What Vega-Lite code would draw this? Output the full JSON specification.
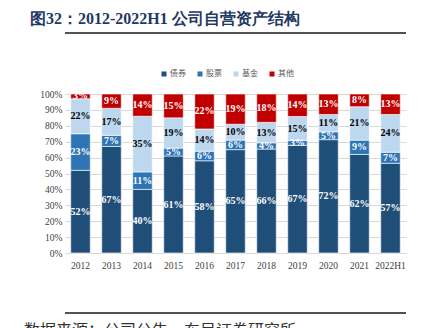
{
  "$schema": "https://vega.github.io/schema/vega-lite/v6.json",
  "width": 341,
  "height": 159,
  "autosize": {"type": "none"},
  "padding": {"left": 65, "top": 94, "right": 27, "bottom": 75},
  "background": "white",
  "title": {
    "text": "图32：2012-2022H1 公司自营资产结构",
    "anchor": "start",
    "frame": "group",
    "dx": -35,
    "offset": 5,
    "font": "Liberation Serif",
    "fontSize": 16,
    "fontWeight": "bold",
    "color": "#1F3864"
  },
  "config": {
    "view": {"stroke": null},
    "font": "Liberation Serif"
  },
  "data": {
    "values": [
      {"year": "2012", "type": "债券", "value": 52}, {"year": "2012", "type": "股票", "value": 23}, {"year": "2012", "type": "基金", "value": 22}, {"year": "2012", "type": "其他", "value": 3},
      {"year": "2013", "type": "债券", "value": 67}, {"year": "2013", "type": "股票", "value": 7}, {"year": "2013", "type": "基金", "value": 17}, {"year": "2013", "type": "其他", "value": 9},
      {"year": "2014", "type": "债券", "value": 40}, {"year": "2014", "type": "股票", "value": 11}, {"year": "2014", "type": "基金", "value": 35}, {"year": "2014", "type": "其他", "value": 14},
      {"year": "2015", "type": "债券", "value": 61}, {"year": "2015", "type": "股票", "value": 5}, {"year": "2015", "type": "基金", "value": 19}, {"year": "2015", "type": "其他", "value": 15},
      {"year": "2016", "type": "债券", "value": 58}, {"year": "2016", "type": "股票", "value": 6}, {"year": "2016", "type": "基金", "value": 14}, {"year": "2016", "type": "其他", "value": 22},
      {"year": "2017", "type": "债券", "value": 65}, {"year": "2017", "type": "股票", "value": 6}, {"year": "2017", "type": "基金", "value": 10}, {"year": "2017", "type": "其他", "value": 19},
      {"year": "2018", "type": "债券", "value": 66}, {"year": "2018", "type": "股票", "value": 4}, {"year": "2018", "type": "基金", "value": 13}, {"year": "2018", "type": "其他", "value": 18},
      {"year": "2019", "type": "债券", "value": 67}, {"year": "2019", "type": "股票", "value": 3}, {"year": "2019", "type": "基金", "value": 15}, {"year": "2019", "type": "其他", "value": 14},
      {"year": "2020", "type": "债券", "value": 72}, {"year": "2020", "type": "股票", "value": 5}, {"year": "2020", "type": "基金", "value": 11}, {"year": "2020", "type": "其他", "value": 13},
      {"year": "2021", "type": "债券", "value": 62}, {"year": "2021", "type": "股票", "value": 9}, {"year": "2021", "type": "基金", "value": 21}, {"year": "2021", "type": "其他", "value": 8},
      {"year": "2022H1", "type": "债券", "value": 57}, {"year": "2022H1", "type": "股票", "value": 7}, {"year": "2022H1", "type": "基金", "value": 24}, {"year": "2022H1", "type": "其他", "value": 13}
    ]
  },
  "transform": [
    {"calculate": "indexof(['债券','股票','基金','其他'], datum.type)", "as": "ord"},
    {"stack": "value", "groupby": ["year"], "sort": [{"field": "ord", "order": "ascending"}], "offset": "normalize", "as": ["y0", "y1"]},
    {"calculate": "(datum.y0 + datum.y1) / 2", "as": "mid"},
    {"calculate": "datum.value + '%'", "as": "label"}
  ],
  "resolve": {"axis": {"y": "independent"}},
  "layer": [
    {
      "mark": {"type": "bar", "stroke": "white", "strokeWidth": 0.6},
      "encoding": {
        "x": {
          "field": "year", "type": "ordinal", "sort": null,
          "scale": {"paddingInner": 0.37, "paddingOuter": 0.185},
          "axis": {"title": null, "labelAngle": 0, "domain": false, "ticks": false, "labelPadding": 7, "labelFontSize": 9.5, "labelColor": "#404040", "labelFont": "Liberation Serif"}
        },
        "y": {
          "field": "y0", "type": "quantitative",
          "scale": {"domain": [0, 1], "nice": false},
          "axis": {"title": null, "format": ".0%", "tickCount": 11, "labelOverlap": false, "values": [0, 0.1, 0.2, 0.3, 0.4, 0.5, 0.6, 0.7, 0.8, 0.9, 1], "domain": false, "ticks": false, "labelPadding": 3, "labelFontSize": 9.5, "labelColor": "#404040", "labelFont": "Liberation Serif", "gridColor": "#D9D9D9", "gridWidth": 1}
        },
        "y2": {"field": "y1"},
        "color": {
          "field": "type", "type": "nominal",
          "scale": {"domain": ["债券", "股票", "基金", "其他"], "range": ["#1F4E79", "#2E75B6", "#BDD7EE", "#C00000"]},
          "legend": {"title": null, "orient": "none", "direction": "horizontal", "legendX": 95, "legendY": -24, "padding": 0, "symbolType": "square", "symbolSize": 25, "symbolStrokeWidth": 0, "labelFont": "Noto Sans CJK SC", "labelFontSize": 8, "labelColor": "#595959", "labelOffset": 2, "columnPadding": 10}
        }
      }
    },
    {
      "mark": {"type": "text", "font": "Liberation Serif", "fontSize": 10, "fontWeight": "bold", "baseline": "middle"},
      "encoding": {
        "x": {"field": "year", "type": "ordinal", "sort": null},
        "y": {"field": "mid", "type": "quantitative", "axis": null},
        "text": {"field": "label"},
        "fill": {"condition": {"test": "datum.type === '基金'", "value": "#000000"}, "value": "#FFFFFF"}
      }
    },
    {
      "data": {"values": [{}]},
      "mark": {"type": "rule", "strokeWidth": 1.3, "clip": false, "color": "#1a1a1a"},
      "encoding": {
        "y": {"datum": 1.3836, "type": "quantitative", "axis": null}
      }
    },
    {
      "data": {"values": [{}]},
      "mark": {"type": "rule", "strokeWidth": 1.3, "clip": false, "color": "#1a1a1a"},
      "encoding": {
        "y": {"datum": -0.3774, "type": "quantitative", "axis": null}
      }
    },
    {
      "data": {"values": [{}]},
      "mark": {"type": "text", "align": "left", "baseline": "alphabetic", "font": "Noto Sans CJK SC", "fontSize": 16, "fill": "#333333"},
      "encoding": {
        "x": {"datum": "2012", "type": "ordinal", "bandPosition": -2.393},
        "y": {"datum": -0.522, "type": "quantitative", "axis": null},
        "text": {"value": "数据来源：公司公告，东吴证券研究所"}
      }
    }
  ]
}
